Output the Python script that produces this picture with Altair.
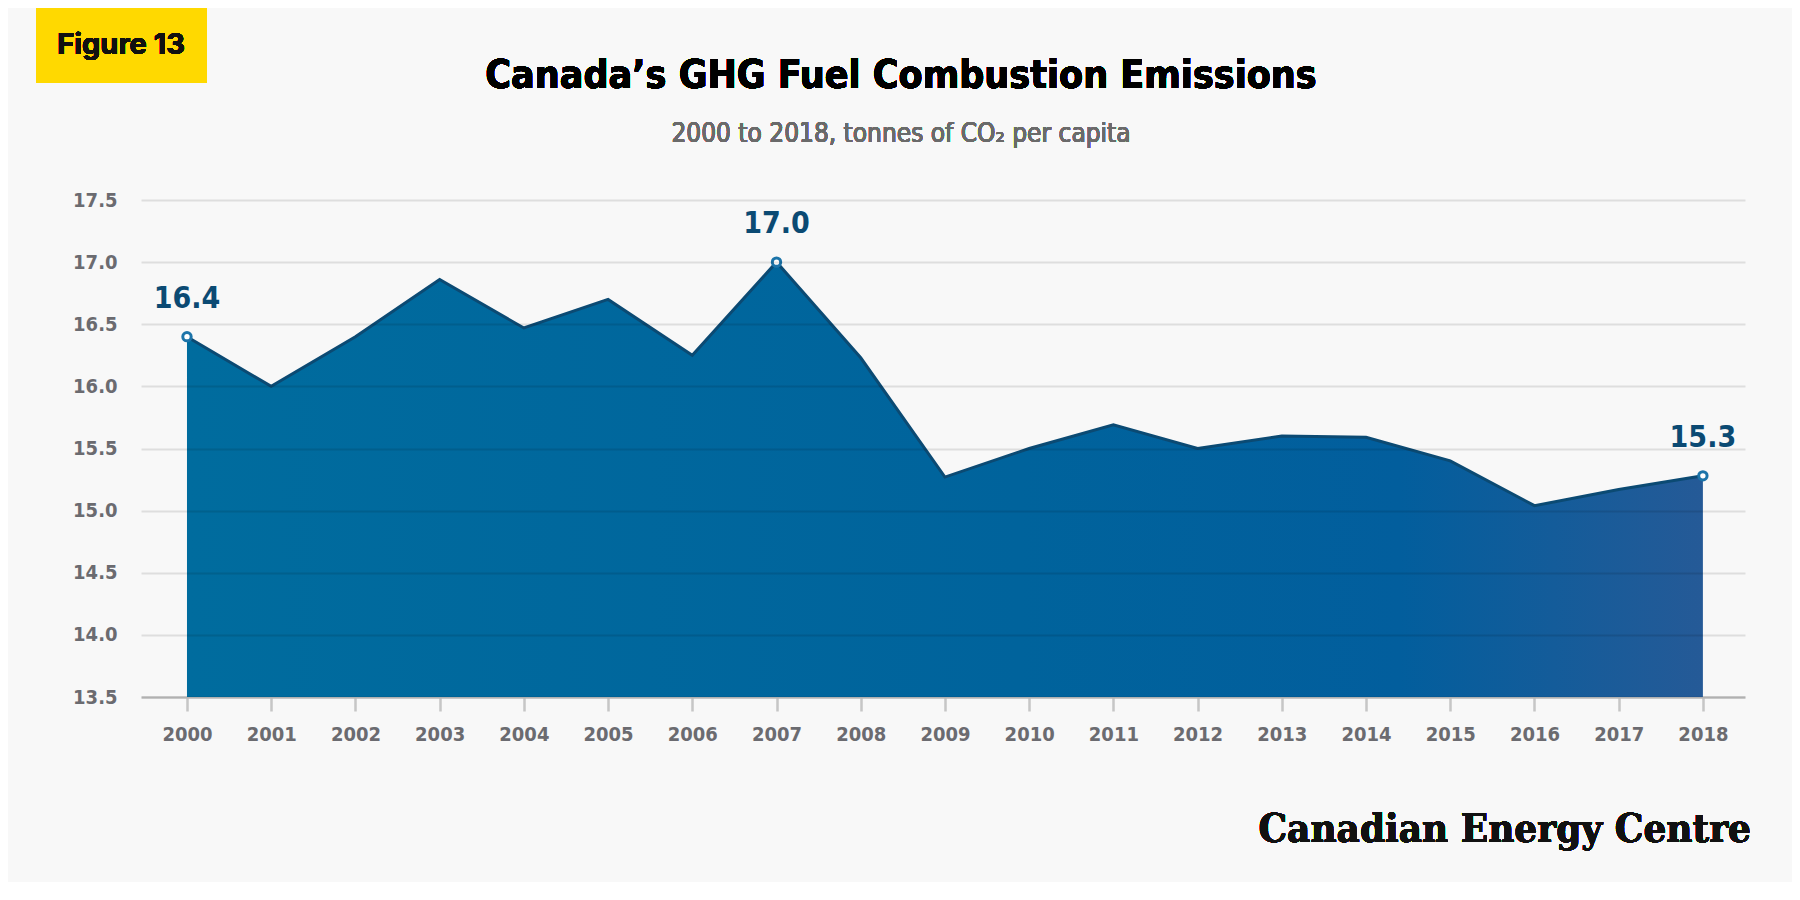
import altair as alt
import pandas as pd

years = list(range(2000, 2019))
emissions = [16.40, 16.00, 16.40, 16.86, 16.47, 16.70, 16.25, 17.00, 16.23, 15.27,
             15.50, 15.69, 15.50, 15.60, 15.59, 15.40, 15.04, 15.17, 15.28]
label_years = [2000, 2007, 2018]
label_texts = ["16.4", "17.0", "15.3"]
y_ticks = [13.5, 14.0, 14.5, 15.0, 15.5, 16.0, 16.5, 17.0, 17.5]

title_text = "Canada\u2019s GHG Fuel Combustion Emissions"
subtitle_text = "2000 to 2018, tonnes of CO\u2082 per capita"
figure_label = "Figure 13"
logo_text = "Canadian Energy Centre"

COND = "DejaVu Sans Condensed, sans-serif"

df = pd.DataFrame({"year": years, "value": emissions, "base": [13.5] * len(years)})
lab = df[df["year"].isin(label_years)].copy()
lab["label"] = label_texts

W, H = 1604, 497
OX, OY = 141, 200  # plot origin in page pixels

x = alt.X("year:Q",
          scale=alt.Scale(domain=[1999.454, 2018.5], nice=False, zero=False),
          axis=alt.Axis(values=years, format="d", title=None, grid=False,
                        domainColor="#C6C6C6", domainWidth=2.5,
                        tickColor="#C6C6C6", tickWidth=2.5, tickSize=14,
                        labelFont=COND, labelFontWeight="bold", labelFontSize=20,
                        labelColor="#6B6B70", labelPadding=13))
y = alt.Y("value:Q",
          scale=alt.Scale(domain=[13.5, 17.5], nice=False, zero=False),
          axis=alt.Axis(values=y_ticks, format=".1f", title=None, domain=False,
                        ticks=False, grid=True, gridColor="#000000", gridOpacity=0.1,
                        gridWidth=2, zindex=1,
                        labelFont=COND, labelFontWeight="bold", labelFontSize=20,
                        labelColor="#6B6B70", labelPadding=24))

base = alt.Chart(df)

area = base.mark_area(
    color=alt.Gradient(
        gradient="linear",
        x1=0, x2=1, y1=0, y2=0,
        stops=[
            alt.GradientStop(offset=0, color="#006C9E"),
            alt.GradientStop(offset=0.55, color="#00639C"),
            alt.GradientStop(offset=0.8, color="#025E9D"),
            alt.GradientStop(offset=1, color="#255A97"),
        ],
    )
).encode(x=x, y=y, y2="base:Q")

line = base.mark_line(color="#0B4A73", strokeWidth=3).encode(x=x, y=y)

pts = alt.Chart(lab).mark_point(filled=True, fill="#FFFFFF", stroke="#1C74A9",
                                strokeWidth=3, size=70, opacity=1).encode(x=x, y=y)

labels = alt.Chart(lab).mark_text(font=COND, fontWeight="bold", fontSize=30,
                                  color="#0B4A73", dy=-38).encode(x=x, y=y, text="label:N")

fig_box = base.mark_rect(color="#FFD900").encode(
    x=alt.value(36 - OX), x2=alt.value(207 - OX),
    y=alt.value(-OY), y2=alt.value(83 - OY))
fig_text = base.mark_text(font="Inter", fontWeight="bold", fontSize=29,
                          color="#111111", align="center", baseline="middle").encode(
    x=alt.value(121 - OX), y=alt.value(45 - OY), text=alt.value(figure_label))

title = base.mark_text(font=COND, fontWeight="bold", fontSize=39, color="#000000",
                       align="center", baseline="alphabetic").encode(
    x=alt.value(901 - OX), y=alt.value(88 - OY), text=alt.value(title_text))

subtitle = base.mark_text(font=COND, fontWeight="normal", fontSize=26, color="#6A6A6A",
                          align="center", baseline="alphabetic").encode(
    x=alt.value(901 - OX), y=alt.value(142 - OY), text=alt.value(subtitle_text))

logo = base.mark_text(font="DejaVu Serif Condensed, DejaVu Serif, serif", fontWeight="bold",
                      fontSize=40, color="#111111", align="right",
                      baseline="alphabetic").encode(
    x=alt.value(1751 - OX), y=alt.value(842 - OY), text=alt.value(logo_text))

chart = alt.layer(area, line, pts, labels, fig_box, fig_text, title, subtitle, logo).properties(
    width=W, height=H,
    autosize=alt.AutoSizeParams(type="none"),
    padding={"left": OX - 8, "top": OY - 8, "right": 47, "bottom": 185},
).configure(background="#F8F8F8").configure_view(stroke=None)

chart.save("out.html", embed_options={"renderer": "svg", "actions": False})
